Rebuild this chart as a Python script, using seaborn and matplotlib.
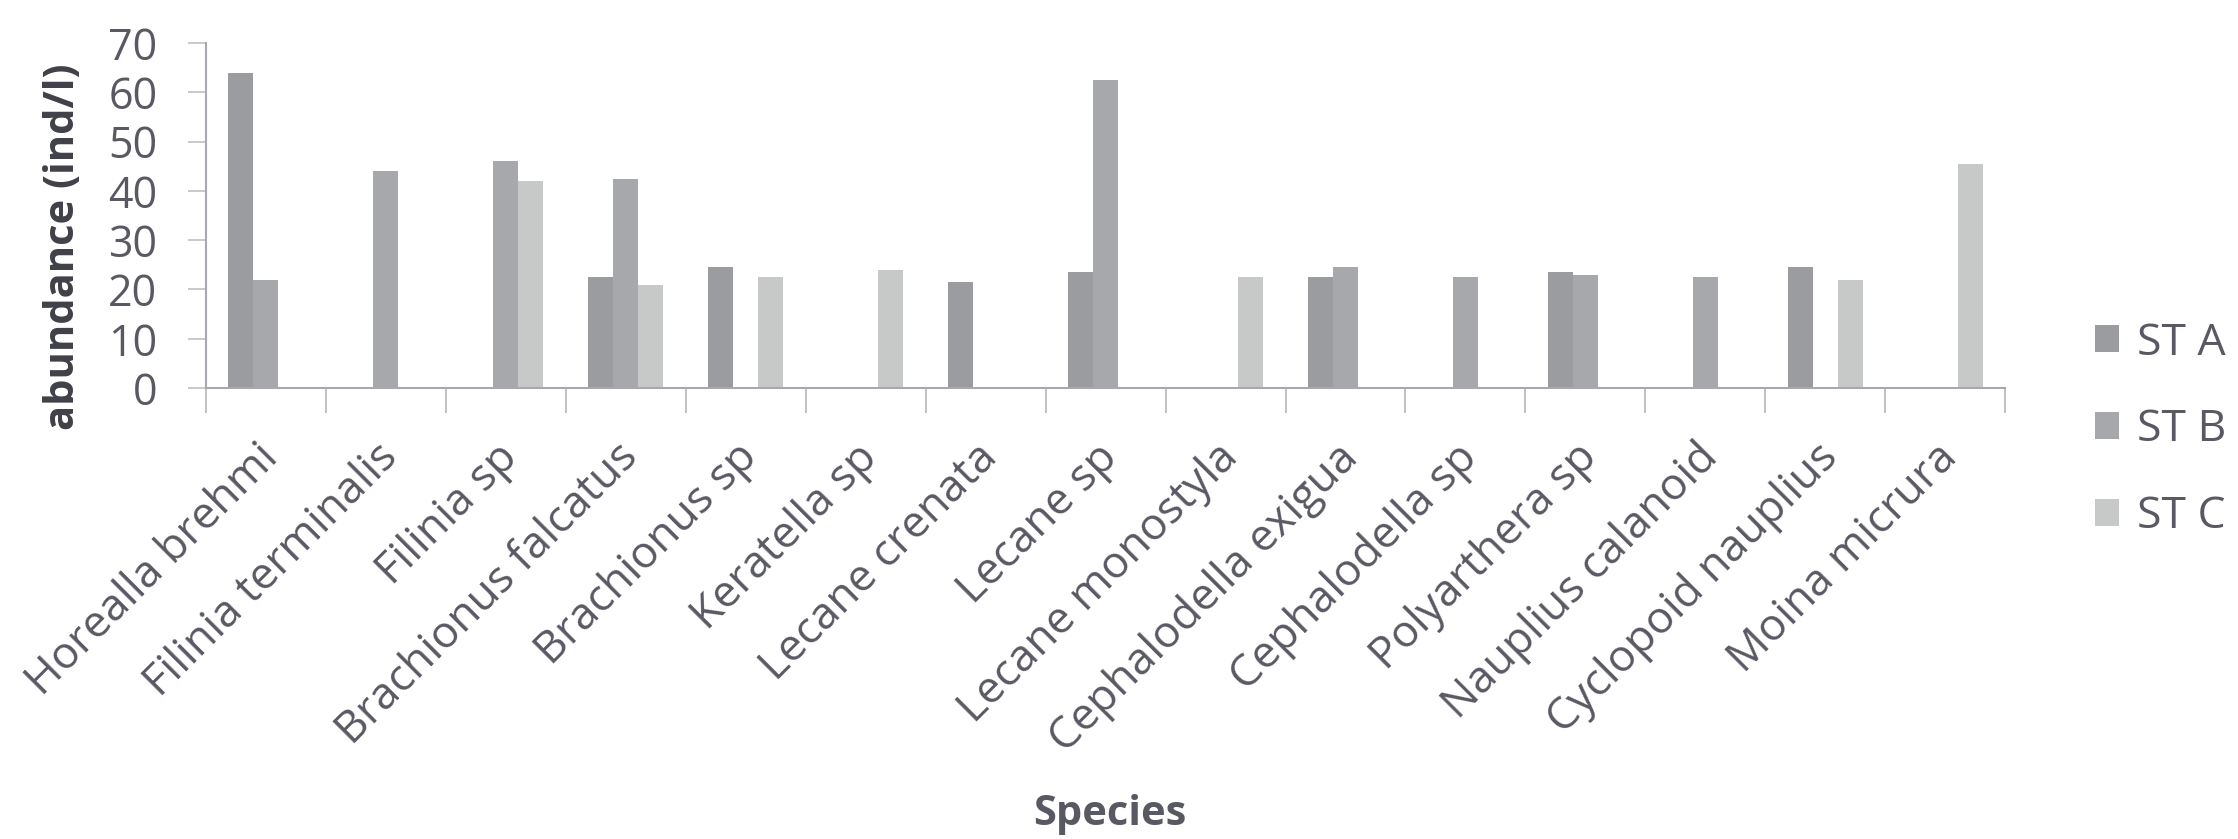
import matplotlib
matplotlib.use("Agg")
import matplotlib.pyplot as plt
from matplotlib.transforms import ScaledTranslation
import seaborn as sns
import pandas as pd
import numpy as np

species = ["Horealla brehmi", "Filinia terminalis", "Filinia sp", "Brachionus falcatus",
           "Brachionus sp", "Keratella sp", "Lecane crenata", "Lecane sp",
           "Lecane monostyla", "Cephalodella exigua", "Cephalodella sp", "Polyarthera sp",
           "Nauplius calanoid", "Cyclopoid nauplius", "Moina micrura"]
st_a = [64, 0, 0, 22.5, 24.5, 0, 21.5, 23.5, 0, 22.5, 0, 23.5, 0, 24.5, 0]
st_b = [22, 44, 46, 42.5, 0, 0, 0, 62.5, 0, 24.5, 22.5, 23, 22.5, 0, 0]
st_c = [0, 0, 42, 21, 22.5, 24, 0, 0, 22.5, 0, 0, 0, 0, 22, 45.5]
stations = ["ST A", "ST B", "ST C"]
colors = ["#9a9ca0", "#a6a8ab", "#c6c9c7"]

df = pd.DataFrame({
    "Species": species * 3,
    "abundance": st_a + st_b + st_c,
    "Station": [s for s in stations for _ in species],
})

sns.set_theme(style="white")
plt.rcParams["font.family"] = ["Open Sans", "DejaVu Sans"]

text_col = "#595964"

fig = plt.figure(figsize=(22.38, 8.39), dpi=100)
ax = fig.add_axes([0.092, 0.5375, 0.804, 0.4112])

sns.barplot(data=df, x="Species", y="abundance", hue="Station", order=species,
            hue_order=stations, palette=colors, width=0.625, saturation=1,
            edgecolor="none", ax=ax)

ax.set_ylim(0, 70)
ax.set_xlim(-0.5, len(species) - 0.5)
ax.set_yticks(np.arange(0, 71, 10))
ax.tick_params(axis="y", labelsize=31, labelcolor=text_col, length=13, width=1.2,
               color="#c0c0c0", left=True, pad=22)

ax.set_xticks(np.arange(len(species)))
ax.set_xticklabels(species, rotation=45, ha="right", va="top", rotation_mode="anchor",
                   fontsize=32, color=text_col)
ax.tick_params(axis="x", length=0, pad=34)
ax.set_xticks(np.arange(len(species) + 1) - 0.5, minor=True)
ax.tick_params(axis="x", which="minor", length=18, width=1.2, color="#b8b8b8", bottom=True)
shift = ScaledTranslation(-10 / 100, 0, fig.dpi_scale_trans)
for lbl in ax.get_xticklabels():
    lbl.set_transform(lbl.get_transform() + shift)

for s in ["top", "right"]:
    ax.spines[s].set_visible(False)
for s in ["left", "bottom"]:
    ax.spines[s].set_color("#a8a8b0")
    ax.spines[s].set_linewidth(1.5)

ax.set_ylabel("abundance (ind/l)", fontsize=30, fontweight="bold", color="#404048")
ax.yaxis.set_label_coords(-0.068, 0.41)
ax.set_xlabel("")
fig.text(0.496, 0.0167, "Species", ha="center", va="baseline", fontsize=30,
         fontweight="bold", color=text_col)

ax.legend(loc="center left", bbox_to_anchor=(0.936, 0.4875), bbox_transform=fig.transFigure,
          frameon=False, fontsize=32, borderpad=0, borderaxespad=0,
          handlelength=0.55, handleheight=0.55, labelspacing=0.95, handletextpad=0.4,
          labelcolor=text_col)

fig.savefig("out.png", dpi=100, facecolor="white")
